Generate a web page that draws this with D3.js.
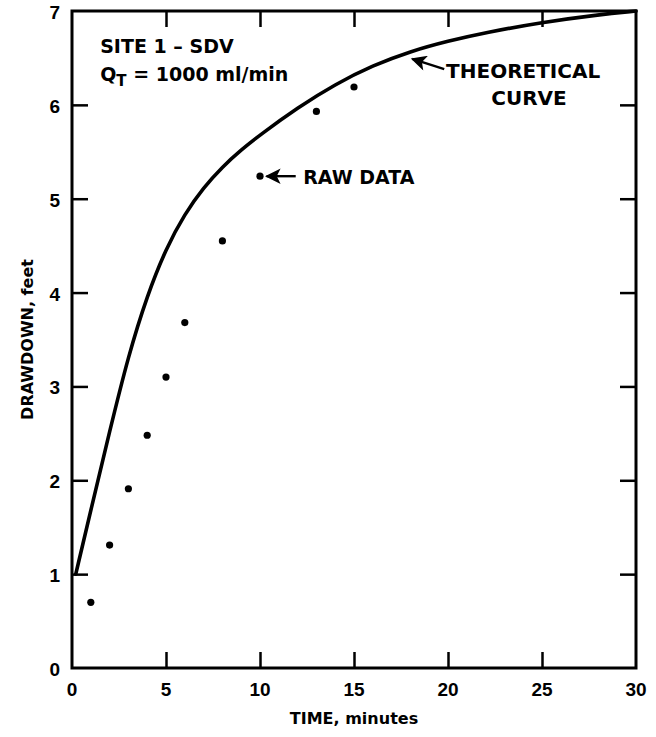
<!DOCTYPE html>
<html><head><meta charset="utf-8">
<script src="https://cdn.jsdelivr.net/npm/d3@7"></script>
<style>body{margin:0;background:#fff}</style>
</head><body><svg id="c" width="656" height="737"></svg>
<script>
const rawTime = [1, 2, 3, 4, 5, 6, 8, 10, 13, 15];
const rawDrawdown = [0.70, 1.31, 1.91, 2.48, 3.10, 3.68, 4.55, 5.24, 5.93, 6.19];
const curveTime = [0.2, 1, 2, 3, 4, 5, 6, 7, 8, 9, 10, 12, 14, 16, 18, 20, 22, 25, 28, 30];
const curveDrawdown = [1.00, 1.68, 2.52, 3.33, 3.97, 4.47, 4.84, 5.12, 5.34, 5.52, 5.68, 5.97, 6.22, 6.42, 6.57, 6.68, 6.77, 6.88, 6.96, 7.00];
const xTicks = [0, 5, 10, 15, 20, 25, 30];
const yTicks = [0, 1, 2, 3, 4, 5, 6, 7];
const xTitle = "TIME, minutes";
const yTitle = "DRAWDOWN, feet";

const svg = d3.select("#c");
const FONT = "'DejaVu Sans', Arial, sans-serif";
const TFONT = "'Liberation Sans', Arial, sans-serif";
const m = {left: 72, right: 656 - 636, top: 11, bottom: 737 - 668};
const W = 656, H = 737;
const x = d3.scaleLinear().domain([0, 30]).range([m.left, W - m.right]);
const y = d3.scaleLinear().domain([0, 7]).range([H - m.bottom, m.top]);
const tickLen = 16;

const g = svg.append("g");
const inner = xTicks.slice(1, -1), innerY = yTicks.slice(1, -1);
g.append("g").call(d3.axisTop(x).tickValues(inner).tickSize(tickLen).tickFormat(""))
  .attr("transform", `translate(0,${y(0)})`);
g.append("g").call(d3.axisBottom(x).tickValues(inner).tickSize(tickLen).tickFormat(""))
  .attr("transform", `translate(0,${y(7)})`);
g.append("g").call(d3.axisRight(y).tickValues(innerY).tickSize(tickLen).tickFormat(""))
  .attr("transform", `translate(${x(0)},0)`);
g.append("g").call(d3.axisLeft(y).tickValues(innerY).tickSize(tickLen).tickFormat(""))
  .attr("transform", `translate(${x(30)},0)`);
g.selectAll(".domain").remove();
g.selectAll(".tick line").attr("stroke", "#000").attr("stroke-width", 2.5);

svg.append("rect").attr("x", x(0)).attr("y", y(7)).attr("width", x(30) - x(0)).attr("height", y(0) - y(7))
  .attr("fill", "none").attr("stroke", "#000").attr("stroke-width", 3);

svg.append("g").selectAll("text").data(xTicks).join("text")
  .attr("x", d => x(d)).attr("y", y(0) + 28).attr("text-anchor", "middle")
  .attr("font-family", TFONT).attr("font-weight", "bold").attr("font-size", 19).text(d => d);
svg.append("g").selectAll("text").data(yTicks).join("text")
  .attr("x", x(0) - 12).attr("y", d => y(d) + 8).attr("text-anchor", "end")
  .attr("font-family", TFONT).attr("font-weight", "bold").attr("font-size", 19).text(d => d);

svg.append("text").attr("x", (x(0) + x(30)) / 2).attr("y", y(0) + 56).attr("text-anchor", "middle")
  .attr("font-family", FONT).attr("font-weight", "bold").attr("font-size", 16).text(xTitle);
svg.append("text").attr("transform", `translate(33,${(y(0) + y(7)) / 2}) rotate(-90)`).attr("text-anchor", "middle")
  .attr("font-family", FONT).attr("font-weight", "bold").attr("font-size", 16).text(yTitle);

const pts = curveTime.map((t, i) => [t, curveDrawdown[i]]);
svg.append("path").datum(pts)
  .attr("d", d3.line().x(d => x(d[0])).y(d => y(d[1])).curve(d3.curveBasis))
  .attr("fill", "none").attr("stroke", "#000").attr("stroke-width", 3.6).attr("stroke-linecap", "round");

svg.append("g").selectAll("circle").data(rawTime.map((t, i) => [t, rawDrawdown[i]])).join("circle")
  .attr("cx", d => x(d[0])).attr("cy", d => y(d[1])).attr("r", 3.6).attr("fill", "#000");

const ann = svg.append("g").attr("font-family", FONT).attr("font-weight", "bold").attr("font-size", 19);
ann.append("text").attr("x", x(1.5)).attr("y", y(6.55)).text("SITE 1 \u2013 SDV");
const t2 = ann.append("text").attr("x", x(1.5)).attr("y", y(6.25));
t2.append("tspan").text("Q");
t2.append("tspan").attr("dy", 5).attr("font-size", 15).text("T");
t2.append("tspan").attr("dy", -5).text(" = 1000 ml/min");

ann.append("text").attr("x", x(19.9)).attr("y", y(6.29)).attr("font-size", 20).text("THEORETICAL");
ann.append("text").attr("x", x(22.3)).attr("y", y(6.0)).attr("font-size", 20).text("CURVE");
ann.append("text").attr("x", x(12.3)).attr("y", y(5.16)).text("RAW DATA");

svg.append("defs").append("marker").attr("id", "ah").attr("viewBox", "0 0 10 10")
  .attr("refX", 9).attr("refY", 5).attr("markerWidth", 7.5).attr("markerHeight", 6.5).attr("orient", "auto")
  .attr("markerUnits", "strokeWidth")
  .append("path").attr("d", "M0,0 L10,5 L0,10 L2.5,5 Z").attr("fill", "#000");
svg.append("line").attr("x1", x(19.8)).attr("y1", y(6.38)).attr("x2", x(18.1)).attr("y2", y(6.49))
  .attr("stroke", "#000").attr("stroke-width", 2.4).attr("marker-end", "url(#ah)");
svg.append("line").attr("x1", x(11.9)).attr("y1", y(5.24)).attr("x2", x(10.35)).attr("y2", y(5.24))
  .attr("stroke", "#000").attr("stroke-width", 2.4).attr("marker-end", "url(#ah)");
</script></body></html>
